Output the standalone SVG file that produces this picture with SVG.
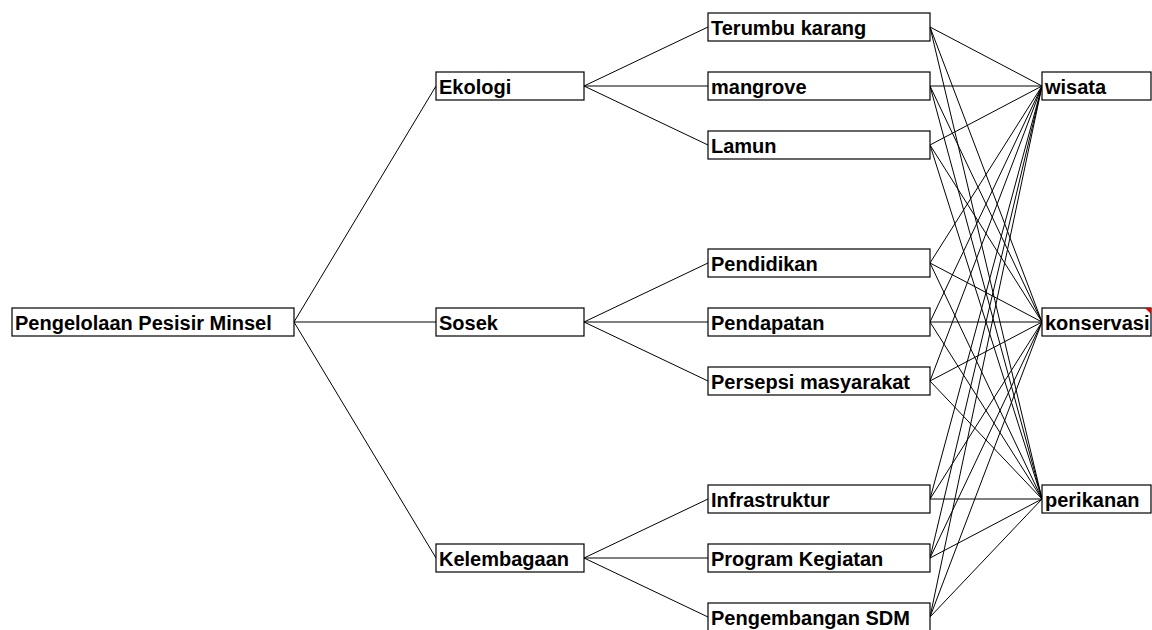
<svg xmlns="http://www.w3.org/2000/svg" width="1152" height="630" viewBox="0 0 1152 630">
<style>
rect.b{fill:#fff;stroke:#000;stroke-width:1.2}
text{font-family:"Liberation Sans",Arial,sans-serif;font-weight:bold;font-size:20px;fill:#000}
#connectors line{stroke:#000;stroke-width:1}
</style>
<rect width="1152" height="630" fill="#fff"/>
<g id="connectors">
<line x1="294" y1="322" x2="436" y2="86"/>
<line x1="294" y1="322" x2="436" y2="322"/>
<line x1="294" y1="322" x2="436" y2="558"/>
<line x1="584" y1="86" x2="708" y2="27"/>
<line x1="584" y1="86" x2="708" y2="86"/>
<line x1="584" y1="86" x2="708" y2="145"/>
<line x1="584" y1="322" x2="708" y2="263"/>
<line x1="584" y1="322" x2="708" y2="322"/>
<line x1="584" y1="322" x2="708" y2="381"/>
<line x1="584" y1="558" x2="708" y2="499"/>
<line x1="584" y1="558" x2="708" y2="558"/>
<line x1="584" y1="558" x2="708" y2="617"/>
<g>
<line x1="930" y1="27" x2="1042" y2="86"/><line x1="930" y1="27" x2="1042" y2="322"/><line x1="930" y1="27" x2="1042" y2="499"/>
<line x1="930" y1="86" x2="1042" y2="86"/><line x1="930" y1="86" x2="1042" y2="322"/><line x1="930" y1="86" x2="1042" y2="499"/>
<line x1="930" y1="145" x2="1042" y2="86"/><line x1="930" y1="145" x2="1042" y2="322"/><line x1="930" y1="145" x2="1042" y2="499"/>
<line x1="930" y1="263" x2="1042" y2="86"/><line x1="930" y1="263" x2="1042" y2="322"/><line x1="930" y1="263" x2="1042" y2="499"/>
<line x1="930" y1="322" x2="1042" y2="86"/><line x1="930" y1="322" x2="1042" y2="322"/><line x1="930" y1="322" x2="1042" y2="499"/>
<line x1="930" y1="381" x2="1042" y2="86"/><line x1="930" y1="381" x2="1042" y2="322"/><line x1="930" y1="381" x2="1042" y2="499"/>
<line x1="930" y1="499" x2="1042" y2="86"/><line x1="930" y1="499" x2="1042" y2="322"/><line x1="930" y1="499" x2="1042" y2="499"/>
<line x1="930" y1="558" x2="1042" y2="86"/><line x1="930" y1="558" x2="1042" y2="322"/><line x1="930" y1="558" x2="1042" y2="499"/>
<line x1="930" y1="617" x2="1042" y2="86"/><line x1="930" y1="617" x2="1042" y2="322"/><line x1="930" y1="617" x2="1042" y2="499"/>
</g>
</g>
<g id="root"><rect class="b" x="12" y="308" width="282" height="28"/><text x="15" y="330">Pengelolaan Pesisir Minsel</text></g>
<g id="ekologi"><rect class="b" x="436" y="72" width="148" height="28"/><text x="439" y="94">Ekologi</text></g>
<g id="sosek"><rect class="b" x="436" y="308" width="148" height="28"/><text x="439" y="330">Sosek</text></g>
<g id="kelembagaan"><rect class="b" x="436" y="544" width="148" height="28"/><text x="439" y="566">Kelembagaan</text></g>
<g id="terumbu"><rect class="b" x="708" y="13" width="222" height="28"/><text x="711" y="35">Terumbu karang</text></g>
<g id="mangrove"><rect class="b" x="708" y="72" width="222" height="28"/><text x="711" y="94">mangrove</text></g>
<g id="lamun"><rect class="b" x="708" y="131" width="222" height="28"/><text x="711" y="153">Lamun</text></g>
<g id="pendidikan"><rect class="b" x="708" y="249" width="222" height="28"/><text x="711" y="271">Pendidikan</text></g>
<g id="pendapatan"><rect class="b" x="708" y="308" width="222" height="28"/><text x="711" y="330">Pendapatan</text></g>
<g id="persepsi"><rect class="b" x="708" y="367" width="222" height="28"/><text x="711" y="389">Persepsi masyarakat</text></g>
<g id="infrastruktur"><rect class="b" x="708" y="485" width="222" height="28"/><text x="711" y="507">Infrastruktur</text></g>
<g id="program"><rect class="b" x="708" y="544" width="222" height="28"/><text x="711" y="566">Program Kegiatan</text></g>
<g id="sdm"><rect class="b" x="708" y="603" width="222" height="28"/><text x="711" y="625">Pengembangan SDM</text></g>
<g id="wisata"><rect class="b" x="1042" y="72" width="109" height="28"/><text x="1045" y="94">wisata</text></g>
<g id="konservasi"><rect class="b" x="1042" y="308" width="109" height="28"/><text x="1045" y="330">konservasi</text><polygon points="1145,308 1151,308 1151,314" fill="#e00000"/></g>
<g id="perikanan"><rect class="b" x="1042" y="485" width="109" height="28"/><text x="1045" y="507">perikanan</text></g>
</svg>
